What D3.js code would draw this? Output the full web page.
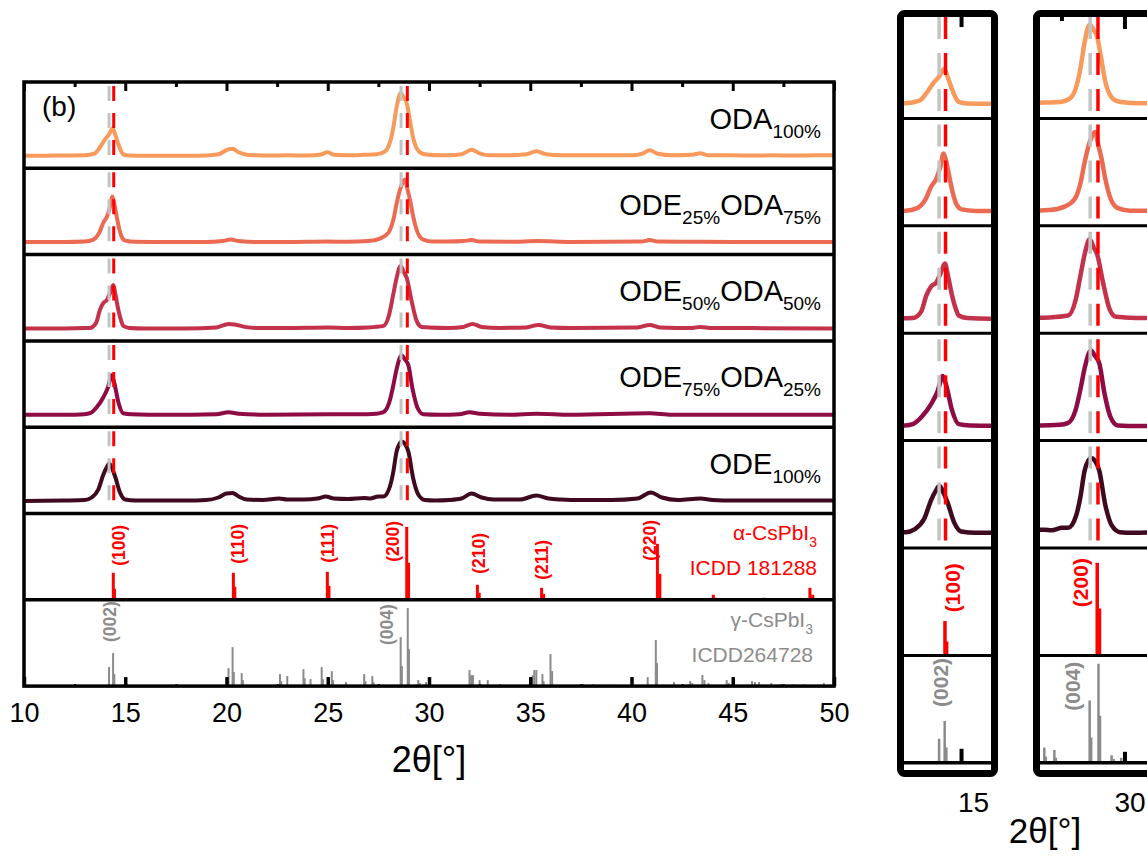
<!DOCTYPE html>
<html><head><meta charset="utf-8">
<script src="https://cdn.jsdelivr.net/npm/d3@7"></script>
<style>
body{margin:0;background:#fff;}
svg{display:block;font-family:"Liberation Sans",Arial,Helvetica,sans-serif;}
</style>
</head><body>
<svg id="c" width="1147" height="858"></svg>
<script>
// ---------------- DATA ----------------
// XRD patterns: [2theta (deg), intensity (a.u.)]
const sODA100 = [[10,0.5],[11,0.6],[12,0.8],[13,1],[13.5,3],[13.75,9],[14.0,17],[14.2,22],[14.38,28],[14.5,22],[14.66,12],[14.8,5],[14.9,2],[15.2,0.8],[16,0.5],[17,0.6],[18,0.6],[19,0.8],[19.6,2],[20.1,7],[20.3,7.5],[20.6,4],[21,1.5],[21.5,1],[22,0.8],[23,1],[24,0.8],[24.6,1.5],[25.0,4],[25.3,1.5],[26,1],[26.8,1.5],[27.42,2],[27.83,5],[28.07,14],[28.24,29],[28.4,49],[28.6,63],[28.75,59],[28.9,53],[29.06,36],[29.22,18],[29.39,8],[29.64,3],[30,1.5],[30.5,1],[31,1],[31.6,2],[32.1,6.5],[32.5,3],[33,1],[34,1],[34.8,2],[35.3,5],[35.8,2],[36.5,1],[37,1],[38,1],[39,1],[40,1],[40.5,2.5],[40.9,6],[41.3,2.5],[42,1],[43,1.5],[43.4,3],[43.8,1],[45,1],[46,0.8],[47,1],[48,0.8],[49,1],[50,1]];
const sODE25 = [[10,0.5],[12,0.5],[13,1],[13.42,3],[13.72,10],[13.92,20],[14.1,26],[14.25,36],[14.36,46],[14.45,40],[14.58,26],[14.7,14],[14.82,6],[15,2],[15.5,0.8],[17,0.5],[19,0.5],[19.8,1.5],[20.2,3],[20.6,1.5],[21.5,0.5],[23,0.5],[25,1],[26,0.8],[27,1.5],[27.58,4],[28.0,10],[28.24,23],[28.4,39],[28.57,53],[28.7,60],[28.81,63],[28.95,52],[29.06,43],[29.22,26],[29.42,11],[29.72,3],[30.2,1],[31,1],[31.7,1.5],[32.1,2.5],[32.5,1],[34,0.8],[35.4,1.5],[37,0.6],[40.5,1],[40.9,2.5],[41.3,1],[43,0.8],[45,0.6],[50,0.5]];
const sODE50 = [[10,0.5],[12,0.5],[13,0.8],[13.26,1],[13.56,6],[13.75,19],[13.92,26],[14.1,29],[14.25,36],[14.41,44],[14.5,36],[14.66,19],[14.8,8],[14.9,3],[15.2,1],[16,0.5],[18,0.5],[19.5,1.5],[20.1,5],[20.4,4.5],[20.9,2],[21.5,1],[23,1],[25,1.5],[26,1],[27,1.5],[27.75,3],[28.04,15],[28.24,35],[28.4,51],[28.6,63],[28.75,57],[28.9,51],[29.14,28],[29.39,8],[29.64,2],[30,1.5],[31,1],[31.7,2],[32.15,5],[32.6,2],[33.5,1],[34.8,1.5],[35.4,4],[36,1.5],[37,1],[40.3,1.5],[40.9,4],[41.4,1.5],[43,1],[43.4,2],[44,0.8],[46,0.8],[50,0.5]];
const sODE75 = [[10,0.5],[12,0.5],[13,1],[13.26,2],[13.59,8],[13.92,18],[14.15,28],[14.33,40],[14.45,33],[14.66,13],[14.9,2],[15.3,1],[17,0.5],[19.5,1],[20.1,3],[20.6,1.5],[22,0.5],[25,1],[26.5,1],[27.4,1.5],[27.75,3],[28.04,13],[28.24,30],[28.4,46],[28.65,60],[28.8,56],[28.98,50],[29.19,26],[29.42,8],[29.72,1],[30.5,0.5],[31.5,1],[32.0,3],[32.5,1.5],[34,0.5],[35.3,1.5],[37,0.5],[40.9,2],[42,0.5],[45,0.5],[50,0.5]];
const sODE100 = [[10,0.5],[12,1],[13,1.5],[13.34,4],[13.67,12],[13.92,27],[14.08,34],[14.21,38],[14.35,33],[14.5,25],[14.74,9],[14.99,2],[15.5,1],[16.5,1],[18,1],[19,1.5],[19.6,4],[20.0,8],[20.3,8.5],[20.6,5],[21.0,2],[21.8,1.5],[22.6,3],[23.0,2],[23.8,2],[24.5,3],[24.9,5],[25.3,3],[26,2.5],[26.8,3.5],[27.09,3],[27.5,5],[27.75,5],[28.07,15],[28.24,30],[28.4,50],[28.65,60],[28.8,58],[28.98,50],[29.22,23],[29.47,7],[29.8,1.5],[30.3,1],[31,1.5],[31.6,3],[32.1,8],[32.6,4],[33.2,2],[34.5,2],[35.3,6],[35.9,3],[36.5,2],[37.5,1.5],[39,1.5],[40.3,3],[40.95,9],[41.5,4],[42.3,1.5],[43.4,3],[44,1.5],[45,1],[47,1],[49,1],[50,1]];
const seriesData = [sODA100, sODE25, sODE50, sODE75, sODE100];
const seriesColors = ["#F89A5C","#EC6A52","#C3314B","#8E0B44","#3F0A1F"];
const seriesLabels = [
  [["ODA",0],["100%",1]],
  [["ODE",0],["25%",1],["ODA",0],["75%",1]],
  [["ODE",0],["50%",1],["ODA",0],["50%",1]],
  [["ODE",0],["75%",1],["ODA",0],["25%",1]],
  [["ODE",0],["100%",1]]
];
// reference patterns: [2theta, relative intensity]
const alphaSticks = [[14.41,27],[14.47,11],[20.34,27],[20.41,13],[24.98,28],[25.06,14],[28.9,73],[28.99,37],[32.39,15],[32.48,7],[35.56,12],[35.66,6],[41.28,56],[41.4,26],[44.04,5],[44.15,2],[46.54,2],[48.81,12],[48.95,5]];
const alphaLabels = [["(100)",14.68,34],["(110)",20.57,36],["(111)",25.01,37],["(200)",28.22,38],["(210)",32.47,26],["(211)",35.58,20],["(220)",40.91,39]];
const gammaSticks = [[14.2,19],[14.4,33],[14.46,12],[20.1,18],[20.3,39],[20.36,14],[20.75,13],[20.81,6],[22.64,12],[22.7,5],[23.0,10],[23.8,17],[23.86,8],[24.15,7],[24.7,19],[24.76,7],[25.2,15],[25.26,6],[25.9,4],[26.8,12],[26.86,5],[27.2,10],[27.26,4],[28.6,49],[28.66,20],[28.95,78],[29.01,37],[29.47,6],[29.55,3],[29.85,4],[32.0,16],[32.08,11],[32.17,11],[32.5,6],[32.9,6],[33.5,2],[35.12,11],[35.2,16],[35.3,16],[35.6,12],[35.66,5],[36.0,32],[36.08,15],[37.6,2],[38.1,2],[38.8,1.5],[40.8,9],[41.2,46],[41.26,23],[42.1,4],[42.9,5],[43.0,3],[43.5,11],[43.6,6],[43.8,3],[44.7,6],[44.8,3],[45.95,5],[46.1,4],[46.3,4],[46.9,3],[47.4,2],[48.0,2],[48.5,2],[49.5,3]];
const gammaLabels = [["(002)",14.25,44],["(004)",27.93,41]];
const grayRefLines = [14.2, 28.62];
const redRefLines = [14.43, 28.93];
const majorTicks = [10,15,20,25,30,35,40,45,50];
const minorTicks = [12.5,17.5,22.5,27.5,32.5,37.5,42.5,47.5];
const alphaText = [["α-CsPbI",0],["3",1]];
const alphaCode = "ICDD 181288";
const gammaText = [["γ-CsPbI",0],["3",1]];
const gammaCode = "ICDD264728";
const panelTag = "(b)";
const axisTitle = "2θ[°]";

// ---------------- DRAWING ----------------
const svg = d3.select("#c");
svg.append("rect").attr("width",1147).attr("height",858).attr("fill","#fff");
const RED = "#FF0000", GRAYDASH = "#C3C3C3", GRAYSTICK = "#8A8A8A", GRAYTXT = "#8C8C8C";

function rich(g, parts, x, y, size, subSize, subDy, anchor, color){
  const t = g.append("text").attr("x",x).attr("y",y).attr("text-anchor",anchor)
    .attr("font-size",size).attr("fill",color);
  let cur = 0;
  parts.forEach(p=>{
    const target = p[1] ? subDy : 0;
    t.append("tspan").attr("dy", target-cur).attr("font-size", p[1]?subSize:size).text(p[0]);
    cur = target;
  });
  return t;
}

// ---- main panel ----
const M = {l:24, r:834, t:82, ph:86.3, n:7};
const x = d3.scaleLinear().domain([10,50]).range([M.l, M.r]);
const pt = i => M.t + i*M.ph;
const mainG = svg.append("g");
svg.append("clipPath").attr("id","mclip").append("rect")
  .attr("x",M.l).attr("y",M.t).attr("width",M.r-M.l).attr("height",M.n*M.ph);
const plotG = mainG.append("g").attr("clip-path","url(#mclip)");

seriesData.forEach((s,i)=>{
  const top = pt(i);
  const y = d3.scaleLinear().domain([0,74.3]).range([top+74.3, top]);
  plotG.append("path").datum(s)
    .attr("d", d3.line().x(d=>x(d[0])).y(d=>y(d[1])).curve(d3.curveMonotoneX))
    .attr("fill","none").attr("stroke",seriesColors[i]).attr("stroke-width",4)
    .attr("stroke-linejoin","round").attr("stroke-linecap","round");
  [[grayRefLines,GRAYDASH],[redRefLines,RED]].forEach(([arr,col])=>{
    arr.forEach(v=>{
      plotG.append("line").attr("x1",x(v)).attr("x2",x(v)).attr("y1",top+4).attr("y2",top+M.ph)
        .attr("stroke",col).attr("stroke-width",3).attr("stroke-dasharray","15,12");
    });
  });
  rich(mainG, seriesLabels[i], 821, top+46.5, 29, 19, 9, "end", "#000");
});

// stick panels
const yA = d3.scaleLinear().domain([0,86.3]).range([pt(6), pt(5)]);
plotG.selectAll("line.alpha").data(alphaSticks).join("line").attr("class","alpha")
  .attr("x1",d=>x(d[0])).attr("x2",d=>x(d[0])).attr("y1",yA(0)).attr("y2",d=>yA(d[1]))
  .attr("stroke",RED).attr("stroke-width",3);
const yG = d3.scaleLinear().domain([0,86.3]).range([pt(7), pt(6)]);
plotG.selectAll("line.gamma").data(gammaSticks).join("line").attr("class","gamma")
  .attr("x1",d=>x(d[0])).attr("x2",d=>x(d[0])).attr("y1",yG(0)).attr("y2",d=>yG(d[1]))
  .attr("stroke",GRAYSTICK).attr("stroke-width",2);

function hklLabels(g, data, xs, ys, size, color){
  data.forEach(d=>{
    g.append("text").attr("transform",`translate(${xs(d[1])},${ys(d[2])}) rotate(-90)`)
      .attr("dy","0.36em").attr("text-anchor","start").attr("font-size",size)
      .attr("font-weight","bold").attr("fill",color).text(d[0]);
  });
}
hklLabels(mainG, alphaLabels, x, yA, 17.5, RED);
hklLabels(mainG, gammaLabels, x, yG, 17.5, GRAYTXT);

rich(mainG, alphaText, 817, 540, 21, 14, 7, "end", RED);
mainG.append("text").attr("x",817).attr("y",575).attr("text-anchor","end").attr("font-size",21).attr("fill",RED).text(alphaCode);
rich(mainG, gammaText, 813, 627, 21, 14, 7, "end", GRAYTXT);
mainG.append("text").attr("x",813).attr("y",662).attr("text-anchor","end").attr("font-size",21).attr("fill",GRAYTXT).text(gammaCode);

mainG.append("text").attr("x",42).attr("y",116).attr("font-size",28).text(panelTag);

// separators + frame
for(let k=1;k<M.n;k++){
  mainG.append("line").attr("x1",M.l).attr("x2",M.r).attr("y1",pt(k)).attr("y2",pt(k))
    .attr("stroke","#000").attr("stroke-width",3.5);
}
mainG.append("rect").attr("x",M.l).attr("y",M.t).attr("width",M.r-M.l).attr("height",M.n*M.ph)
  .attr("fill","none").attr("stroke","#000").attr("stroke-width",3.5);

function tickAxis(g, axisFn, y, values, size, width){
  const a = g.append("g").attr("transform",`translate(0,${y})`)
    .call(axisFn(x).tickValues(values).tickSize(size).tickFormat(""));
  a.select(".domain").remove();
  a.selectAll("line").attr("stroke","#000").attr("stroke-width",width);
}
tickAxis(mainG, d3.axisBottom, M.t, majorTicks, 9, 3);
tickAxis(mainG, d3.axisBottom, M.t, minorTicks, 5, 3);
tickAxis(mainG, d3.axisTop, pt(7), majorTicks, 9, 3.5);
tickAxis(mainG, d3.axisTop, pt(7), minorTicks, 2, 2);

const lab = mainG.append("g").attr("transform",`translate(0,${pt(7)})`)
  .call(d3.axisBottom(x).tickValues(majorTicks).tickSize(0).tickPadding(17).tickFormat(d3.format("d")));
lab.select(".domain").remove();
lab.attr("font-family",null).attr("font-size",null);
lab.selectAll("text").attr("font-size",27).attr("fill","#000");

mainG.append("text").attr("x",(M.l+M.r)/2).attr("y",772).attr("text-anchor","middle")
  .attr("font-size",36).text(axisTitle);

// ---- insets (zoom around the (100) and (200) reflections) ----
const IN = {t:11, ph:107.4, n:7, gain:1.27};
const ipt = i => IN.t + i*IN.ph;
const insets = [
  {dom:[12.95,16.05], rng:[904,991], major:[15], minor:[], lbl:[15], lblDx:12, tickLen:[10,14]},
  {dom:[26.63,31.39], rng:[1040,1160], major:[30], minor:[27.5], lbl:[30], lblDx:5, tickLen:[12,11]}
];
insets.forEach((ins,k)=>{
  const xs = d3.scaleLinear().domain(ins.dom).range(ins.rng);
  const g = svg.append("g");
  const cid = "iclip"+k;
  svg.append("clipPath").attr("id",cid).append("rect")
    .attr("x",ins.rng[0]).attr("y",IN.t).attr("width",ins.rng[1]-ins.rng[0]).attr("height",IN.n*IN.ph);
  const pg = g.append("g").attr("clip-path",`url(#${cid})`);
  seriesData.forEach((s,i)=>{
    const top = ipt(i);
    const base = top + 93.5;
    const y = d3.scaleLinear().domain([0,74.3]).range([base, base-74.3*IN.gain]);
    pg.append("path").datum(s)
      .attr("d", d3.line().x(d=>xs(d[0])).y(d=>y(d[1])).curve(d3.curveMonotoneX))
      .attr("fill","none").attr("stroke",seriesColors[i]).attr("stroke-width",4.5)
      .attr("stroke-linejoin","round");
    [[grayRefLines,GRAYDASH],[redRefLines,RED]].forEach(([arr,col])=>{
      arr.forEach(v=>{
        pg.append("line").attr("x1",xs(v)).attr("x2",xs(v)).attr("y1",top+6).attr("y2",top+IN.ph)
          .attr("stroke",col).attr("stroke-width",3.5).attr("stroke-dasharray","22,14");
      });
    });
  });
  const yAi = d3.scaleLinear().domain([0,86.3]).range([ipt(6), ipt(6)-86.3*IN.gain]);
  const yGi = d3.scaleLinear().domain([0,86.3]).range([ipt(7), ipt(7)-86.3*IN.gain]);
  pg.selectAll("line.a").data(alphaSticks).join("line").attr("class","a")
    .attr("x1",d=>xs(d[0])).attr("x2",d=>xs(d[0])).attr("y1",yAi(0)).attr("y2",d=>yAi(d[1]))
    .attr("stroke",RED).attr("stroke-width",3.5);
  pg.selectAll("line.g").data(gammaSticks).join("line").attr("class","g")
    .attr("x1",d=>xs(d[0])).attr("x2",d=>xs(d[0])).attr("y1",yGi(0)).attr("y2",d=>yGi(d[1]))
    .attr("stroke",GRAYSTICK).attr("stroke-width",2.5);
  const inDom = d => d[1]>=ins.dom[0] && d[1]<=ins.dom[1];
  hklLabels(pg, alphaLabels.filter(inDom), xs, yAi, 21, RED);
  hklLabels(pg, gammaLabels.filter(inDom), xs, yGi, 21, GRAYTXT);
  for(let j=1;j<=IN.n;j++){
    g.append("line").attr("x1",ins.rng[0]).attr("x2",ins.rng[1]).attr("y1",ipt(j)).attr("y2",ipt(j))
      .attr("stroke","#000").attr("stroke-width",j===IN.n?3.5:3);
  }
  ins.major.forEach(v=>{
    g.append("line").attr("x1",xs(v)).attr("x2",xs(v)).attr("y1",IN.t).attr("y2",17+ins.tickLen[0])
      .attr("stroke","#000").attr("stroke-width",4);
    g.append("line").attr("x1",xs(v)).attr("x2",xs(v)).attr("y1",ipt(7)).attr("y2",ipt(7)-ins.tickLen[1])
      .attr("stroke","#000").attr("stroke-width",4);
  });
  ins.minor.forEach(v=>{
    g.append("line").attr("x1",xs(v)).attr("x2",xs(v)).attr("y1",IN.t).attr("y2",21)
      .attr("stroke","#000").attr("stroke-width",4);
  });
  const fx0 = ins.rng[0]-7, fx1 = k===0 ? ins.rng[1]+7 : 1260;
  g.append("rect").attr("x",fx0+3.5).attr("y",13.5).attr("width",fx1-fx0-7).attr("height",760)
    .attr("rx",4).attr("fill","none").attr("stroke","#000").attr("stroke-width",7);
  ins.lbl.forEach(v=>{
    g.append("text").attr("x",xs(v)+ins.lblDx).attr("y",812).attr("text-anchor","middle")
      .attr("font-size",28).text(d3.format("d")(v));
  });
});
svg.append("text").attr("x",1045).attr("y",843).attr("text-anchor","middle")
  .attr("font-size",35).text(axisTitle);
</script>
</body></html>
